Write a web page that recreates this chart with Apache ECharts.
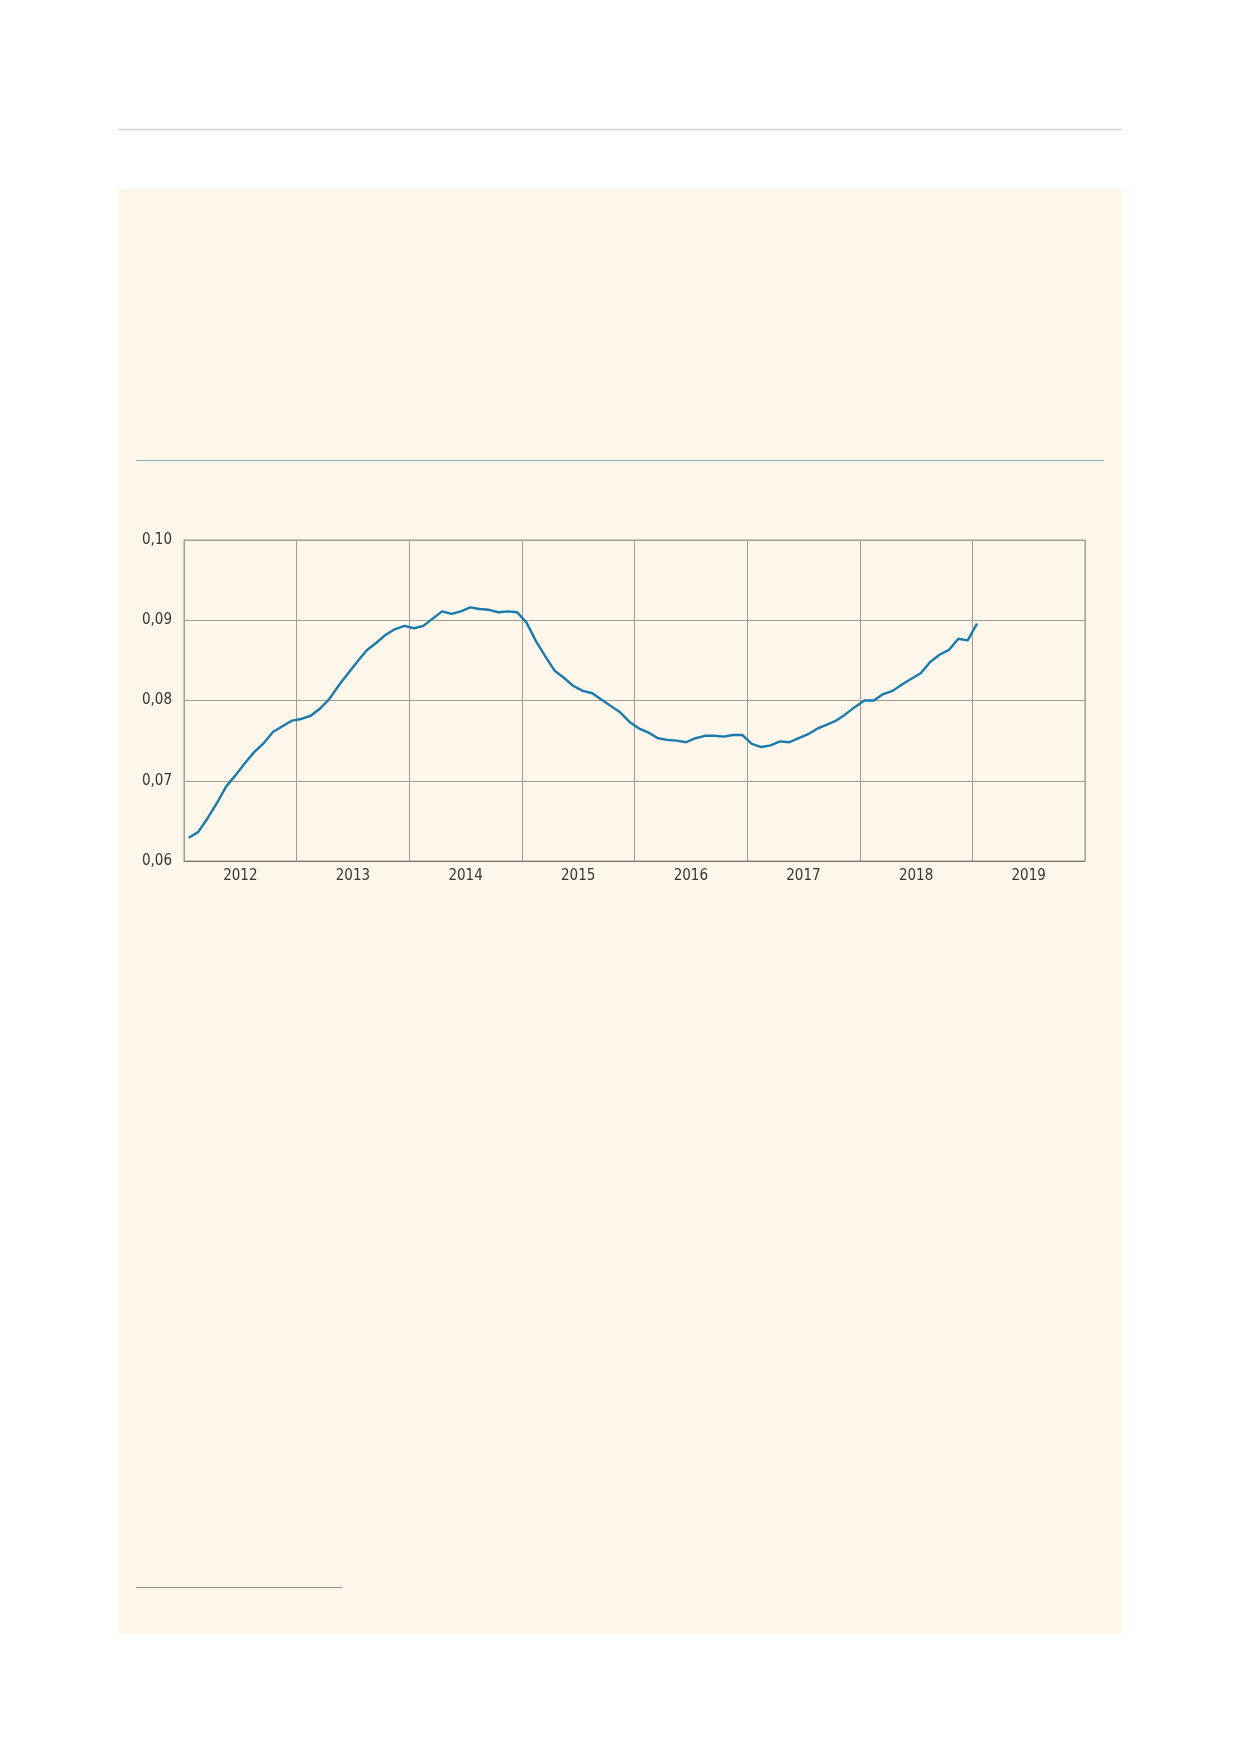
<!DOCTYPE html>
<html>
<head>
<meta charset="utf-8">
<script src="https://cdn.jsdelivr.net/npm/echarts@6/dist/echarts.min.js"></script>
<style>
html,body{margin:0;padding:0;background:#ffffff;}
#c{width:1239px;height:1752px;}
</style>
</head>
<body>
<div id="c"></div>
<script>
// Monthly observations, Jan 2012 .. Jan 2019
const months = [
 "2012-01","2012-02","2012-03","2012-04","2012-05","2012-06","2012-07","2012-08","2012-09","2012-10","2012-11","2012-12",
 "2013-01","2013-02","2013-03","2013-04","2013-05","2013-06","2013-07","2013-08","2013-09","2013-10","2013-11","2013-12",
 "2014-01","2014-02","2014-03","2014-04","2014-05","2014-06","2014-07","2014-08","2014-09","2014-10","2014-11","2014-12",
 "2015-01","2015-02","2015-03","2015-04","2015-05","2015-06","2015-07","2015-08","2015-09","2015-10","2015-11","2015-12",
 "2016-01","2016-02","2016-03","2016-04","2016-05","2016-06","2016-07","2016-08","2016-09","2016-10","2016-11","2016-12",
 "2017-01","2017-02","2017-03","2017-04","2017-05","2017-06","2017-07","2017-08","2017-09","2017-10","2017-11","2017-12",
 "2018-01","2018-02","2018-03","2018-04","2018-05","2018-06","2018-07","2018-08","2018-09","2018-10","2018-11","2018-12",
 "2019-01"
];
const values = [
 0.0629,0.0636,0.0653,0.0672,0.0693,0.0707,0.0722,0.0736,0.0747,0.0761,0.0768,0.0775,
 0.0777,0.0781,0.0790,0.0802,0.0819,0.0834,0.0849,0.0863,0.0872,0.0882,0.0889,0.0893,
 0.0890,0.0893,0.0902,0.0911,0.0908,0.0911,0.0916,0.0914,0.0913,0.0910,0.0911,0.0910,
 0.0897,0.0874,0.0855,0.0837,0.0828,0.0818,0.0812,0.0809,0.0801,0.0793,0.0785,0.0773,
 0.0765,0.0760,0.0753,0.0751,0.0750,0.0748,0.0753,0.0756,0.0756,0.0755,0.0757,0.0757,
 0.0746,0.0742,0.0744,0.0749,0.0748,0.0753,0.0758,0.0765,0.0770,0.0775,0.0783,0.0792,
 0.0800,0.0800,0.0808,0.0812,0.0820,0.0827,0.0834,0.0848,0.0857,0.0863,0.0877,0.0875,
 0.0896
];
const yearLabels = ["2012","2013","2014","2015","2016","2017","2018","2019"];
const yTicks = [0.06,0.07,0.08,0.09,0.10];

const FONT = '"Liberation Sans Narrow","DejaVu Sans Condensed","Roboto Condensed","Noto Sans",sans-serif';
const firstYear = Number(yearLabels[0]);
const lastYear = Number(yearLabels[yearLabels.length-1]) + 1;

const seriesData = months.map((m,i)=>{
  const [y,mo] = m.split('-').map(Number);
  return [y + (mo-0.5)/12, values[i]];
});

const chart = echarts.init(document.getElementById('c'), null, {renderer:'canvas'});
chart.setOption({
  backgroundColor:'#ffffff',
  animation:false,
  graphic:[
    {type:'line', shape:{x1:118,y1:129.5,x2:1122,y2:129.5}, style:{stroke:'#d3d3d3',lineWidth:1.5}, z:0},
    {type:'rect', shape:{x:118,y:189,width:1004,height:1445}, style:{fill:'#fdf6ea'}, z:-10},
    {type:'line', shape:{x1:136,y1:460.5,x2:1104,y2:460.5}, style:{stroke:'#8eacb8',lineWidth:1.2}, z:0},
    {type:'line', shape:{x1:136,y1:1587.5,x2:342,y2:1587.5}, style:{stroke:'#9a8c7e',lineWidth:1.2}, z:0}
  ],
  grid:{left:184,top:540,right:154,bottom:891,show:true,borderColor:'#a29c94',borderWidth:1,backgroundColor:'transparent'},
  xAxis:{
    type:'value', min:firstYear, max:lastYear, interval:1,
    axisLine:{show:true,lineStyle:{color:'#7d756c',width:1.2}},
    axisTick:{show:false},
    splitLine:{show:true,lineStyle:{color:'#a29c94',width:1}},
    axisLabel:{
      customValues: yearLabels.map(y=>Number(y)+0.5),
      formatter:(v)=>String(Math.floor(v)),
      color:'#3a3530', fontFamily:FONT, fontSize:15, margin:8
    }
  },
  yAxis:{
    type:'value', min:yTicks[0], max:yTicks[yTicks.length-1], interval:0.01,
    axisLine:{show:true,lineStyle:{color:'#a29c94',width:1}},
    axisTick:{show:false},
    splitLine:{show:true,lineStyle:{color:'#a29c94',width:1}},
    axisLabel:{
      formatter:(v)=>v.toFixed(2).replace('.',','),
      color:'#3a3530', fontFamily:FONT, fontSize:15, margin:12,
      padding:[7,0,0,0]
    }
  },
  series:[{
    type:'line', data:seriesData, showSymbol:false, symbol:'none',
    lineStyle:{color:'#1a7aae',width:2.4}, z:5
  }]
});
</script>
</body>
</html>
